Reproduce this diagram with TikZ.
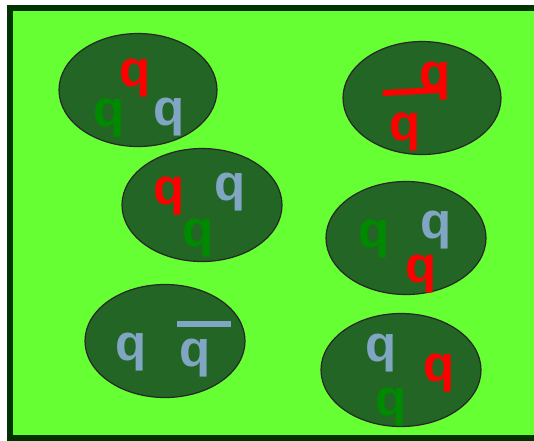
\documentclass[tikz,border=0pt]{standalone}
\usepackage{fontspec}
\setsansfont{Liberation Sans}
\usetikzlibrary{shapes.geometric}
\definecolor{field}{HTML}{66FF33}
\definecolor{frame}{HTML}{003300}
\definecolor{blob}{HTML}{236524}
\definecolor{qred}{HTML}{FF0000}
\definecolor{qgreen}{HTML}{008A00}
\definecolor{qblue}{HTML}{80A6C4}

\begin{document}
\begin{tikzpicture}[
  x=1pt, y=-1pt,
  hadron/.style={ellipse, draw=black!85, fill=blob, line width=1.2pt,
                 minimum width=2*#1, minimum height=113pt, inner sep=0pt},
  hadron/.default=80pt,
  quark/.style={inner sep=0pt, font=\fontsize{51}{51}\selectfont\sffamily\bfseries, text=#1},
  bar/.style={draw=#1, line width=6pt},
]
\useasboundingbox (0,0) rectangle (534,440);

%% ---------------- box ----------------
\draw[draw=frame, fill=field, line width=6pt] (10,8) rectangle (545,438);

%% ---------------- hadrons ----------------
\node[hadron=79pt] (e1) at (138, 90) {};
\node[hadron=79pt] (e2) at (422, 98) {};
\node[hadron]      (e3) at (202,205) {};
\node[hadron]      (e4) at (406,238) {};
\node[hadron]      (e5) at (165,341) {};
\node[hadron]      (e6) at (401,370) {};

%% ---------------- quarks ----------------
\node[quark=qred]   (q1r) at (135, 78.5) {q};
\node[quark=qgreen] (q1g) at (109,118.5) {q};
\node[quark=qblue]  (q1b) at (169,117.5) {q};

\node[quark=qred]   (q2a) at (435.5, 81) {q};
\node[quark=qred]   (q2b) at (405,132.5) {q};
\draw[bar=qred] (383,93) -- (440,90);

\node[quark=qred]   (q3r) at (169,196.5) {q};
\node[quark=qblue]  (q3b) at (230,192.5) {q};
\node[quark=qgreen] (q3g) at (198,238) {q};

\node[quark=qgreen] (q4g) at (374,239.5) {q};
\node[quark=qblue]  (q4b) at (436,230) {q};
\node[quark=qred]   (q4r) at (421,274) {q};

\node[quark=qblue]  (q5a) at (131.5,352) {q};
\node[quark=qblue]  (q5b) at (195.5,358.5) {q};
\draw[bar=qblue] (177,324) -- (231,324);

\node[quark=qblue]  (q6b) at (381,353.5) {q};
\node[quark=qred]   (q6r) at (439,373) {q};
\node[quark=qgreen] (q6g) at (391,407) {q};

\end{tikzpicture}
\end{document}
